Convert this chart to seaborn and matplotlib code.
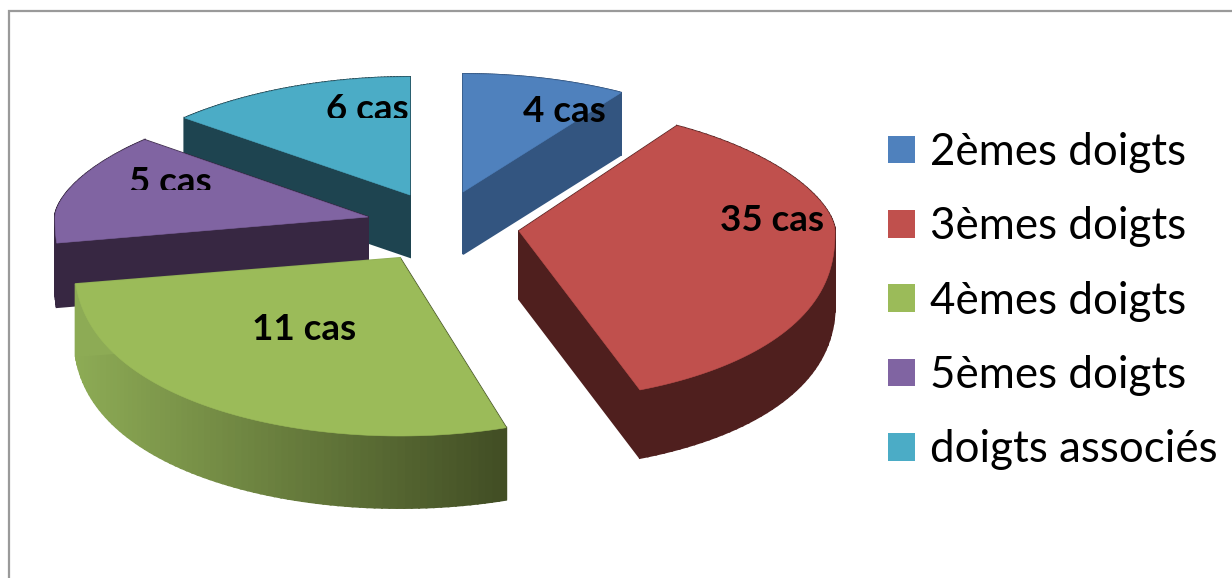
import numpy as np
import matplotlib
matplotlib.use("Agg")
import matplotlib.pyplot as plt
from matplotlib.patches import Patch, Rectangle
import seaborn as sns

# ---- data ----
categories = ["2èmes doigts", "3èmes doigts", "4èmes doigts", "5èmes doigts", "doigts associés"]
case_labels = ["4 cas", "35 cas", "11 cas", "5 cas", "6 cas"]
drawn_shares = [30, 127.5, 106.5, 50.5, 45.5]   # angular share of each slice as drawn in the reference

# ---- styles ----
colors = ["#4f81bd", "#c0504d", "#9bbb59", "#8064a2", "#4bacc6"]
wall_light = ["#335580", "#4f1f1e", "#8dab55", "#372742", "#1e4450"]
wall_dark = ["#335580", "#4f1f1e", "#414d24", "#372742", "#1e4450"]
apexes = [(463, 192), (519, 231), (400, 258), (368, 217), (410, 195)]
depths = [62, 68, 72, 64, 62]
draw_order = [4, 0, 3, 2, 1]
start_trim = [0, 0, 3.5, 0, 0]
radius_x = [316, 316, 326, 313, 316]
radius_back = [118, 125, 118, 118, 118]
radius_front = [178, 170, 178, 178, 178]

sns.set_theme(style="white")
plt.rcParams["font.family"] = ["Lato", "DejaVu Sans"]

fig = plt.figure(figsize=(12.32, 5.78), dpi=100)
ax = fig.add_axes([0, 0, 1, 1])
ax.set_xlim(0, 1232)
ax.set_ylim(578, 0)
ax.set_axis_off()

palette = sns.color_palette(colors)
angles = np.concatenate([[0], np.cumsum(drawn_shares)]) * 360 / np.sum(drawn_shares)


def outline(i):
    t = np.radians(np.linspace(angles[i] + start_trim[i], angles[i + 1], 80))
    cx, cy = apexes[i]
    c = np.cos(t)
    dy = np.where(c > 0, radius_back[i] * np.abs(c) ** 1.2, -radius_front[i] * np.abs(c) ** 0.85)
    x = cx + radius_x[i] * np.sin(t)
    y = cy - dy
    return np.r_[cx, x, cx], np.r_[cy, y, cy]


def mix(a, b, f):
    a, b = np.array(matplotlib.colors.to_rgb(a)), np.array(matplotlib.colors.to_rgb(b))
    return tuple(a + (b - a) * f)


for z, i in enumerate(draw_order):
    x, y = outline(i)
    d = depths[i]
    arc = x[1:-1]
    n = len(x) - 1
    for k in range(n):
        # radial cut faces take the shade of the arc end they touch
        xm = x[1] if k == 0 else x[-2] if k == n - 1 else 0.5 * (x[k] + x[k + 1])
        f = np.clip((xm - arc.min()) / np.ptp(arc), 0, 1)
        c = mix(wall_light[i], wall_dark[i], f)
        ax.fill([x[k], x[k + 1], x[k + 1], x[k]], [y[k], y[k + 1], y[k + 1] + d, y[k] + d],
                color=c, lw=1.4, zorder=2 * z + 1)
    ax.fill(x, y, color=palette[i], lw=0.4, zorder=2 * z + 2)

# frame of the chart area
ax.plot([9, 9, 1232], [578, 11, 11], color="#9a9a9a", lw=1.6, zorder=0, solid_joinstyle="miter")

# data labels (two of them are cut in the reference)
label_pos = [(564, 122), (772, 231), (304, 340), (170, 193), (367, 120)]
label_clip = [None, None, None, 190, 118]
for i, lab in enumerate(case_labels):
    t = ax.text(*label_pos[i], lab, ha="center", va="baseline", fontsize=26.5,
                fontweight="bold", color="black", zorder=30)
    if label_clip[i] is not None:
        t.set_clip_path(Rectangle((0, 0), 1232, label_clip[i], transform=ax.transData))
        t.set_clip_on(True)

handles = [Patch(facecolor=palette[i], edgecolor="none", label=c) for i, c in enumerate(categories)]
ax.legend(handles=handles, loc="upper left", bbox_to_anchor=(888 / 1232, 1 - 132 / 578),
          bbox_transform=ax.transAxes, frameon=False, fontsize=31.6, borderpad=0, borderaxespad=0,
          handlelength=0.615, handleheight=0.59, handletextpad=0.345, labelspacing=0.76, labelcolor="black")

fig.savefig("out.png", dpi=100)
